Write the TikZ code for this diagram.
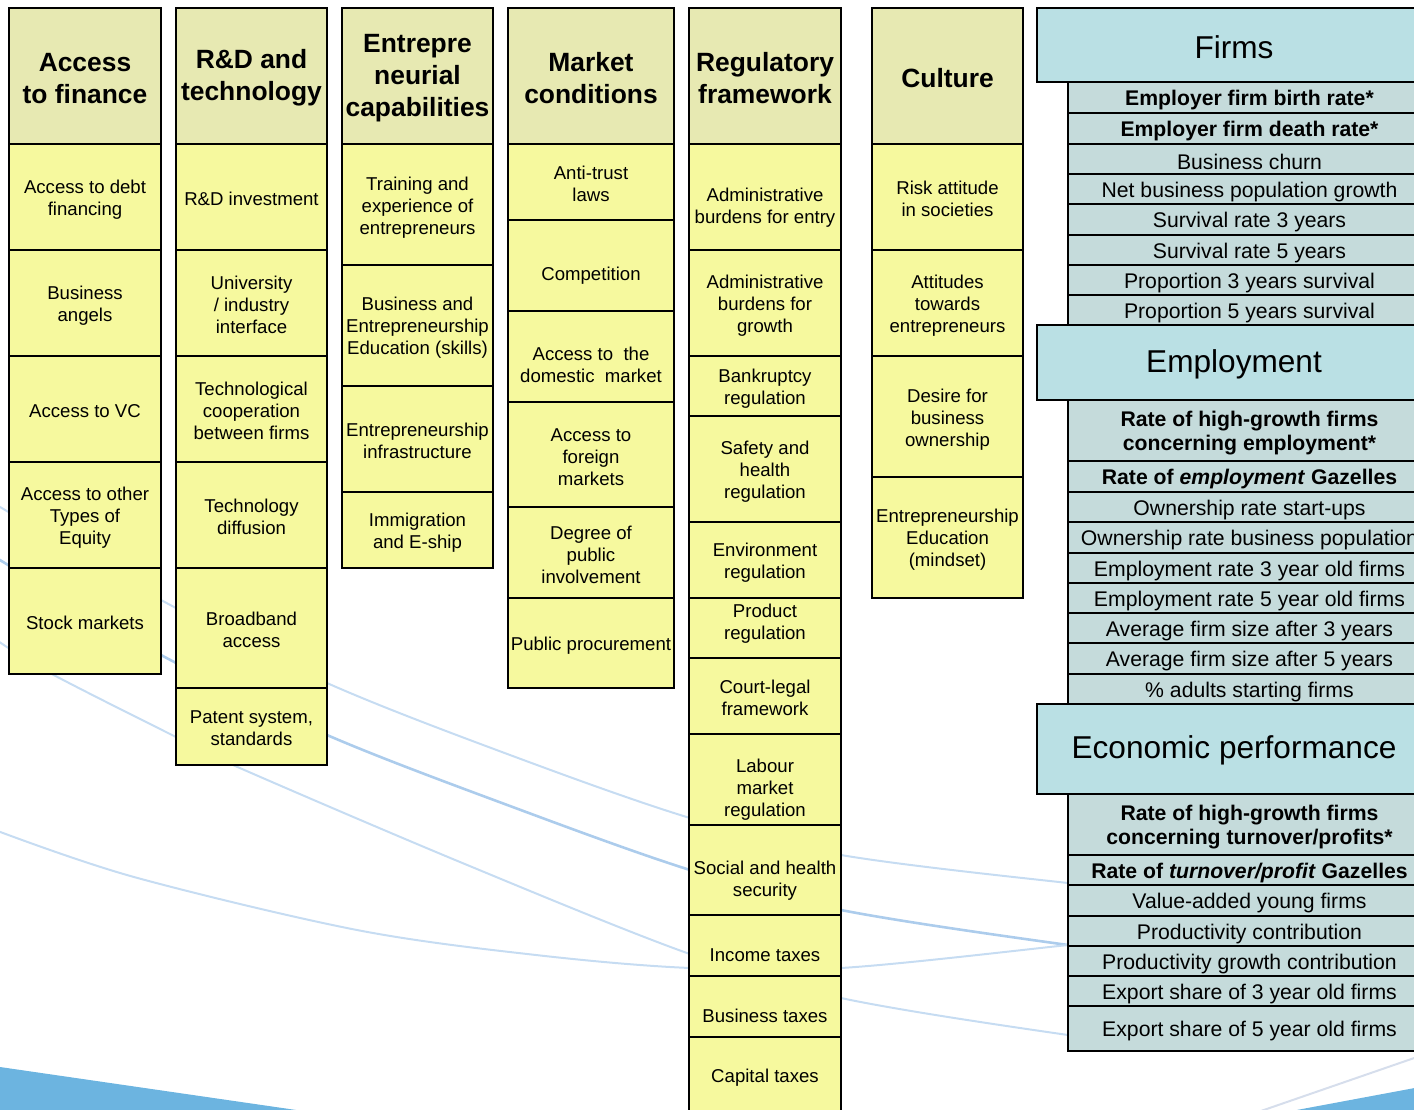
\documentclass[tikz,border=0pt]{standalone}
\usepackage{fontspec}
\setmainfont{Liberation Sans}
\usetikzlibrary{calc}

\definecolor{hdrY}{RGB}{231,233,178}
\definecolor{cellY}{RGB}{246,249,158}
\definecolor{hdrC}{RGB}{186,224,228}
\definecolor{cellC}{RGB}{197,219,219}
\definecolor{swooshA}{RGB}{198,220,242}
\definecolor{swooshB}{RGB}{172,204,236}
\definecolor{swooshG}{RGB}{214,222,236}
\definecolor{wedge}{RGB}{108,180,224}

\tikzset{
 box/.style={draw=black, line width=1pt, inner sep=0pt, outer sep=0pt},
 yhead/.style={box, fill=hdrY},
 ycell/.style={box, fill=cellY},
 chead/.style={box, fill=hdrC},
 ccell/.style={box, fill=cellC},
 thead/.style={font=\fontsize{13.2}{16}\selectfont\bfseries, align=center, inner sep=0pt, yshift=-0.6pt},
 tbody/.style={font=\fontsize{9.3}{11}\selectfont, align=center, inner sep=0pt, yshift=-1.1pt},
 tbig/.style={font=\fontsize{15.8}{19}\selectfont, align=center, inner sep=0pt, yshift=-0.3pt},
 trow/.style={font=\fontsize{10.6}{12}\selectfont, align=center, inner sep=0pt, yshift=-1.4pt},
 trowb/.style={font=\fontsize{10.6}{12}\selectfont\bfseries, align=center, inner sep=0pt, yshift=-1.4pt},
 swoosh/.style={line width=1pt, draw=swooshA},
 swooshstrong/.style={line width=1.3pt, draw=swooshB},
}

% name x1 y1 x2 y2 boxstyle textstyle texty text
\newcommand\cellbox[9]{%
 \node[#6, minimum width={(#4-#2)*0.5pt}, minimum height={(#5-#3)*0.5pt}] (#1) at ({(#2+#4)/2},{(#3+#5)/2}) {};
 \node[#7] (#1t) at ({(#2+#4)/2},#8) {#9};}

% right panel row: name y1 y2 style text
\newcommand\rrow[5]{\cellbox{#1}{1068}{#2}{1431}{#3}{ccell}{#4}{{(#2+#3)/2}}{#5}}

\begin{document}
\begin{tikzpicture}[x=0.5pt,y=-0.5pt]
\useasboundingbox (0,0) rectangle (1414,1109);
\clip (0,0) rectangle (1414,1109);

% background swooshes
\draw[swoosh] plot[smooth, tension=0.55] coordinates {(-5,504) (161,600) (327,683) (510,755) (690,818) (841,855) (1068,883) (1200,895)};
\draw[swooshstrong] plot[smooth, tension=0.55] coordinates {(-5,557) (161,655) (327,735) (510,806) (690,870) (841,910) (1068,945) (1200,960)};
\draw[swoosh] plot[smooth, tension=0.55] coordinates {(-5,639) (50,673) (176,737) (233,765) (460,862) (687,953) (841,998) (1068,1035) (1200,1050)};
\draw[swoosh] plot[smooth, tension=0.55] coordinates {(-5,830) (134,877) (357,930) (536,955) (690,968) (841,968) (1068,945) (1200,930)};
\draw[line width=1pt, draw=swooshG] (1258,1112) -- (1420,1056);
\fill[wedge] (-5,1066) -- (0,1067) -- (310,1112) -- (-5,1112) -- cycle;
\fill[wedge] (1286,1112) -- (1420,1087) -- (1420,1112) -- cycle;

% Access to finance
\cellbox{af}{9}{8}{161}{144}{yhead}{thead}{77}{Access\\to finance}
\cellbox{af1}{9}{144}{161}{250}{ycell}{tbody}{197}{Access to debt\\financing}
\cellbox{af2}{9}{250}{161}{356}{ycell}{tbody}{303}{Business\\angels}
\cellbox{af3}{9}{356}{161}{462}{ycell}{tbody}{409}{Access to VC}
\cellbox{af4}{9}{462}{161}{568}{ycell}{tbody}{515}{Access to other\\Types of\\Equity}
\cellbox{af5}{9}{568}{161}{674}{ycell}{tbody}{621}{Stock markets}

% R&D and technology
\cellbox{rd}{176}{8}{327}{144}{yhead}{thead}{77}{R\&D and\\technology}
\cellbox{rd1}{176}{144}{327}{250}{ycell}{tbody}{197}{R\&D investment}
\cellbox{rd2}{176}{250}{327}{356}{ycell}{tbody}{303}{University\\/ industry\\interface}
\cellbox{rd3}{176}{356}{327}{462}{ycell}{tbody}{409}{Technological\\cooperation\\between firms}
\cellbox{rd4}{176}{462}{327}{568}{ycell}{tbody}{515}{Technology\\diffusion}
\cellbox{rd5}{176}{568}{327}{688}{ycell}{tbody}{628}{Broadband\\access}
\cellbox{rd6}{176}{688}{327}{765}{ycell}{tbody}{726}{Patent system,\\standards}

% Entrepreneurial capabilities
\cellbox{ec}{342}{8}{493}{144}{yhead}{thead}{77}{Entrepre\\neurial\\capabilities}
\cellbox{ec1}{342}{144}{493}{265}{ycell}{tbody}{205}{Training and\\experience of\\entrepreneurs}
\cellbox{ec2}{342}{265}{493}{386}{ycell}{tbody}{325}{Business and\\Entrepreneurship\\Education (skills)}
\cellbox{ec3}{342}{386}{493}{492}{ycell}{tbody}{439}{Entrepreneurship\\infrastructure}
\cellbox{ec4}{342}{492}{493}{568}{ycell}{tbody}{530}{Immigration\\and E-ship}

% Market conditions
\cellbox{mc}{508}{8}{674}{144}{yhead}{thead}{77}{Market\\conditions}
\cellbox{mc1}{508}{144}{674}{220}{ycell}{tbody}{182}{Anti-trust\\laws}
\cellbox{mc2}{508}{220}{674}{311}{ycell}{tbody}{273}{Competition}
\cellbox{mc3}{508}{311}{674}{402}{ycell}{tbody}{363}{Access to~ the\\domestic~ market}
\cellbox{mc4}{508}{402}{674}{507}{ycell}{tbody}{455}{Access to\\foreign\\markets}
\cellbox{mc5}{508}{507}{674}{598}{ycell}{tbody}{553}{Degree of\\public\\involvement}
\cellbox{mc6}{508}{598}{674}{688}{ycell}{tbody}{643}{Public procurement}

% Regulatory framework
\cellbox{rf}{689}{8}{841}{144}{yhead}{thead}{77}{Regulatory\\framework}
\cellbox{rf1}{689}{144}{841}{250}{ycell}{tbody}{205}{Administrative\\burdens for entry}
\cellbox{rf2}{689}{250}{841}{356}{ycell}{tbody}{303}{Administrative\\burdens for\\growth}
\cellbox{rf3}{689}{356}{841}{416}{ycell}{tbody}{386}{Bankruptcy\\regulation}
\cellbox{rf4}{689}{416}{841}{522}{ycell}{tbody}{469}{Safety and\\health\\regulation}
\cellbox{rf5}{689}{522}{841}{598}{ycell}{tbody}{560}{Environment\\regulation}
\cellbox{rf6}{689}{598}{841}{658}{ycell}{tbody}{621}{Product\\regulation}
\cellbox{rf7}{689}{658}{841}{734}{ycell}{tbody}{696}{Court-legal\\framework}
\cellbox{rf8}{689}{734}{841}{825}{ycell}{tbody}{787}{Labour\\market\\regulation}
\cellbox{rf9}{689}{825}{841}{915}{ycell}{tbody}{878}{Social and health\\security}
\cellbox{rf10}{689}{915}{841}{976}{ycell}{tbody}{953}{Income taxes}
\cellbox{rf11}{689}{976}{841}{1037}{ycell}{tbody}{1014}{Business taxes}
\cellbox{rf12}{689}{1037}{841}{1125}{ycell}{tbody}{1075}{Capital taxes}

% Culture
\cellbox{cu}{872}{8}{1023}{144}{yhead}{thead}{77}{Culture}
\cellbox{cu1}{872}{144}{1023}{250}{ycell}{tbody}{197}{Risk attitude\\in societies}
\cellbox{cu2}{872}{250}{1023}{356}{ycell}{tbody}{303}{Attitudes\\towards\\entrepreneurs}
\cellbox{cu3}{872}{356}{1023}{477}{ycell}{tbody}{417}{Desire for\\business\\ownership}
\cellbox{cu4}{872}{477}{1023}{598}{ycell}{tbody}{537}{Entrepreneurship\\Education\\(mindset)}

% Firms
\cellbox{fi}{1037}{8}{1431}{82}{chead}{tbig}{47}{Firms}
\rrow{fi1}{82}{113}{trowb}{Employer firm birth rate*}
\rrow{fi2}{113}{144}{trowb}{Employer firm death rate*}
\rrow{fi3}{144}{174}{trow}{Business churn}
\rrow{fi4}{174}{204}{trow}{Net business population growth}
\rrow{fi5}{204}{235}{trow}{Survival rate 3 years}
\rrow{fi6}{235}{265}{trow}{Survival rate 5 years}
\rrow{fi7}{265}{295}{trow}{Proportion 3 years survival}
\rrow{fi8}{295}{325}{trow}{Proportion 5 years survival}

% Employment
\cellbox{em}{1037}{325}{1431}{400}{chead}{tbig}{364}{Employment}
\rrow{em1}{400}{461}{trowb}{Rate of high-growth firms\\concerning employment*}
\rrow{em2}{461}{492}{trowb}{Rate of \textit{employment} Gazelles}
\rrow{em3}{492}{522}{trow}{Ownership rate start-ups}
\rrow{em4}{522}{553}{trow}{Ownership rate business population}
\rrow{em5}{553}{583}{trow}{Employment rate 3 year old firms}
\rrow{em6}{583}{613}{trow}{Employment rate 5 year old firms}
\rrow{em7}{613}{643}{trow}{Average firm size after 3 years}
\rrow{em8}{643}{674}{trow}{Average firm size after 5 years}
\rrow{em9}{674}{704}{trow}{\% adults starting firms}

% Economic performance
\cellbox{ep}{1037}{704}{1431}{794}{chead}{tbig}{750}{Economic performance}
\rrow{ep1}{794}{855}{trowb}{Rate of high-growth firms\\concerning turnover/profits*}
\rrow{ep2}{855}{885}{trowb}{Rate of \textit{turnover/profit} Gazelles}
\rrow{ep3}{885}{916}{trow}{Value-added young firms}
\rrow{ep4}{916}{946}{trow}{Productivity contribution}
\rrow{ep5}{946}{976}{trow}{Productivity growth contribution}
\rrow{ep6}{976}{1006}{trow}{Export share of 3 year old firms}
\rrow{ep7}{1006}{1051}{trow}{Export share of 5 year old firms}
\end{tikzpicture}
\end{document}
